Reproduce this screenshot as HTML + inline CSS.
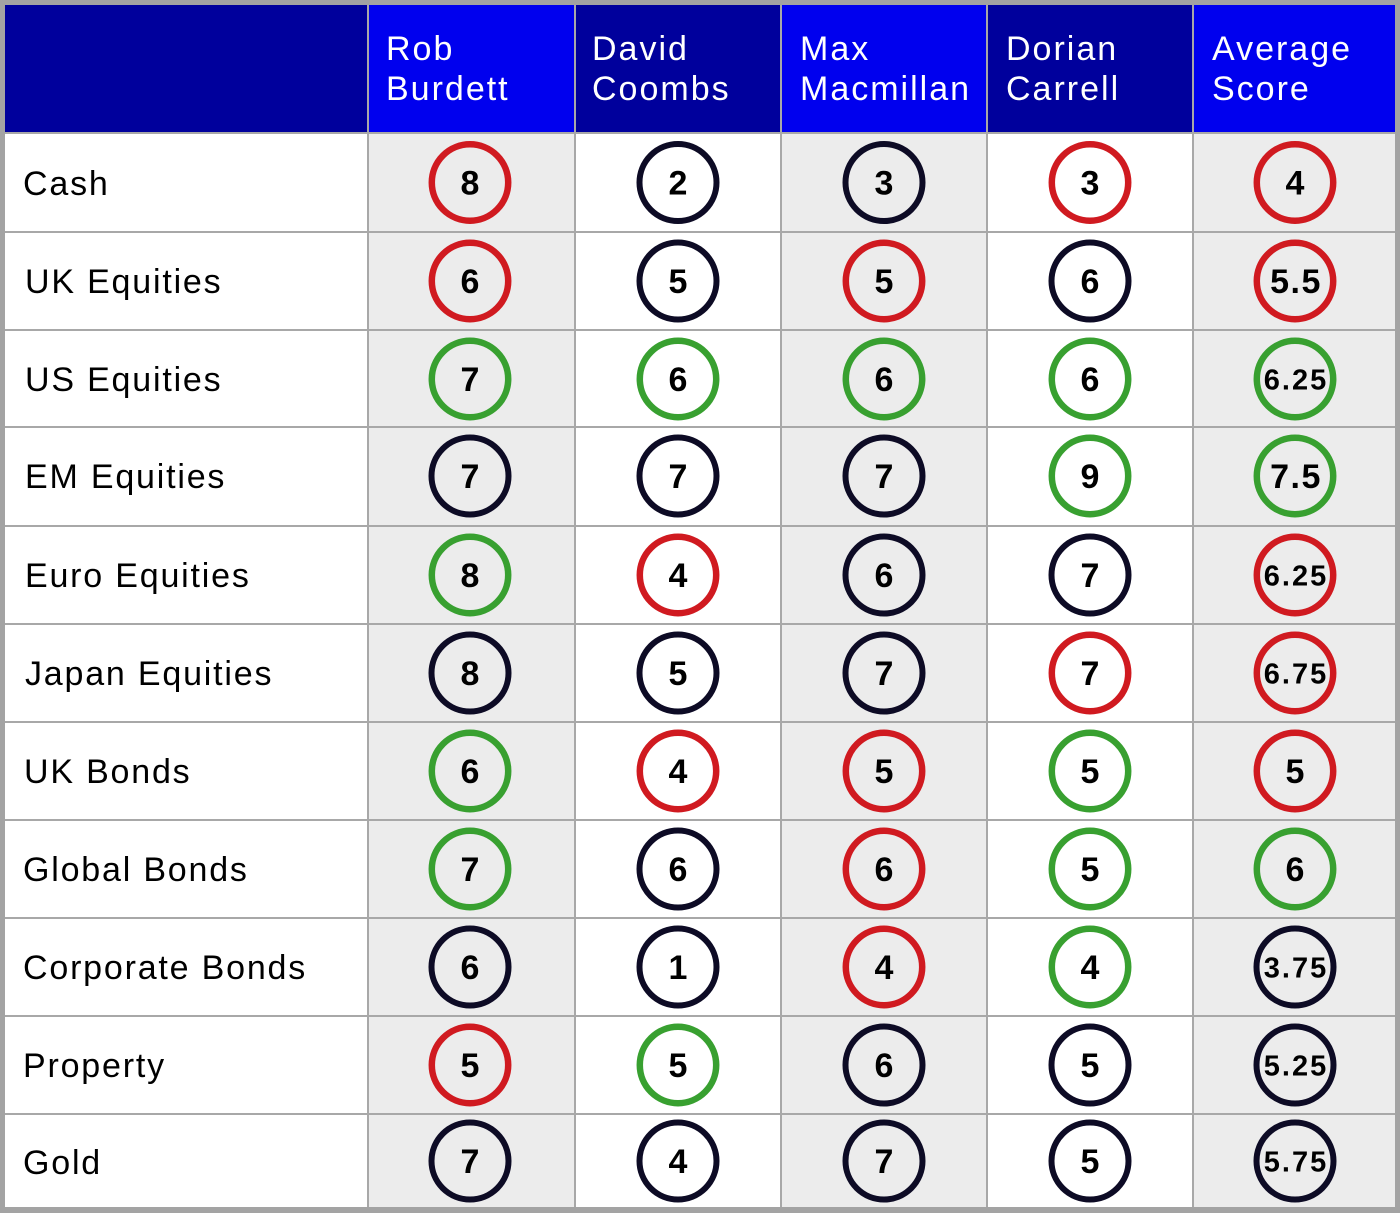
<!DOCTYPE html>
<html>
<head>
<meta charset="utf-8">
<style>
html,body{margin:0;padding:0;background:#a3a3a3;}
svg{display:block;}
.hd{font-family:"Liberation Sans",sans-serif;font-size:34px;fill:#ffffff;letter-spacing:2px;}
.lb{font-family:"Liberation Sans",sans-serif;font-size:34px;fill:#000000;letter-spacing:1.8px;}
.n1{font-family:"Liberation Sans",sans-serif;font-weight:bold;font-size:34px;fill:#000;text-anchor:middle;}
.n3{font-family:"Liberation Sans",sans-serif;font-weight:bold;font-size:34px;fill:#000;text-anchor:middle;letter-spacing:1.5px;}
.n4{font-family:"Liberation Sans",sans-serif;font-weight:bold;font-size:29px;fill:#000;text-anchor:middle;letter-spacing:2px;}
.R{fill:none;stroke:#d01a20;stroke-width:6.5;}
.G{fill:none;stroke:#38a030;stroke-width:6.5;}
.N{fill:none;stroke:#0d0b25;stroke-width:6;}
</style>
</head>
<body>
<svg width="1400" height="1213" viewBox="0 0 1400 1213" xmlns="http://www.w3.org/2000/svg">
  <rect x="0" y="0" width="1400" height="1213" fill="#a3a3a3"/>
  <!-- body backgrounds -->
  <rect x="5" y="134" width="362" height="1073" fill="#ffffff"/>
  <rect x="369" y="134" width="206" height="1073" fill="#ececec"/>
  <rect x="576" y="134" width="205" height="1073" fill="#ffffff"/>
  <rect x="782" y="134" width="205" height="1073" fill="#ececec"/>
  <rect x="988" y="134" width="205" height="1073" fill="#ffffff"/>
  <rect x="1194" y="134" width="201" height="1073" fill="#ececec"/>
  <!-- header backgrounds -->
  <rect x="5" y="5" width="362" height="128" fill="#00009c"/>
  <rect x="369" y="5" width="205" height="128" fill="#0000ee"/>
  <rect x="576" y="5" width="204" height="128" fill="#00009c"/>
  <rect x="782" y="5" width="204" height="128" fill="#0000ee"/>
  <rect x="988" y="5" width="204" height="128" fill="#00009c"/>
  <rect x="1194" y="5" width="201" height="128" fill="#0000ee"/>
  <!-- vertical grid lines -->
  <g fill="#a8a8a8">
    <rect x="367" y="5" width="2" height="1202"/>
    <rect x="574" y="5" width="2" height="1202"/>
    <rect x="780" y="5" width="2" height="1202"/>
    <rect x="986" y="5" width="2" height="1202"/>
    <rect x="1192" y="5" width="2" height="1202"/>
  </g>
  <!-- horizontal grid lines -->
  <g fill="#a8a8a8">
    <rect x="5" y="132" width="1390" height="2"/>
    <rect x="5" y="231" width="1390" height="2"/>
    <rect x="5" y="329" width="1390" height="2"/>
    <rect x="5" y="426" width="1390" height="2"/>
    <rect x="5" y="525" width="1390" height="2"/>
    <rect x="5" y="623" width="1390" height="2"/>
    <rect x="5" y="721" width="1390" height="2"/>
    <rect x="5" y="819" width="1390" height="2"/>
    <rect x="5" y="917" width="1390" height="2"/>
    <rect x="5" y="1015" width="1390" height="2"/>
    <rect x="5" y="1113" width="1390" height="2"/>
  </g>
  <!-- header text -->
  <text class="hd" x="386" y="60">Rob</text>
  <text class="hd" x="386" y="100">Burdett</text>
  <text class="hd" x="592" y="60">David</text>
  <text class="hd" x="592" y="100">Coombs</text>
  <text class="hd" x="800" y="60">Max</text>
  <text class="hd" x="800" y="100">Macmillan</text>
  <text class="hd" x="1006" y="60">Dorian</text>
  <text class="hd" x="1006" y="100">Carrell</text>
  <text class="hd" x="1212" y="60">Average</text>
  <text class="hd" x="1212" y="100">Score</text>
  <!-- row labels -->
  <text class="lb" x="23" y="195">Cash</text>
  <text class="lb" x="25" y="293">UK Equities</text>
  <text class="lb" x="25" y="391">US Equities</text>
  <text class="lb" x="25" y="488">EM Equities</text>
  <text class="lb" x="25" y="587">Euro Equities</text>
  <text class="lb" x="25" y="685">Japan Equities</text>
  <text class="lb" x="24" y="783">UK Bonds</text>
  <text class="lb" x="23" y="881">Global Bonds</text>
  <text class="lb" x="23" y="979">Corporate Bonds</text>
  <text class="lb" x="23" y="1077">Property</text>
  <text class="lb" x="23" y="1174">Gold</text>

  <!-- Row 1: Cash (cy 182.5) -->
  <circle class="R" cx="470" cy="182.5" r="38.2"/><text class="n1" x="470" y="194.5">8</text>
  <circle class="N" cx="678" cy="182.5" r="38.5"/><text class="n1" x="678" y="194.5">2</text>
  <circle class="N" cx="884" cy="182.5" r="38.5"/><text class="n1" x="884" y="194.5">3</text>
  <circle class="R" cx="1090" cy="182.5" r="38.2"/><text class="n1" x="1090" y="194.5">3</text>
  <circle class="R" cx="1295" cy="182.5" r="38.2"/><text class="n1" x="1295" y="194.5">4</text>

  <!-- Row 2: UK Equities (cy 281) -->
  <circle class="R" cx="470" cy="281" r="38.2"/><text class="n1" x="470" y="293">6</text>
  <circle class="N" cx="678" cy="281" r="38.5"/><text class="n1" x="678" y="293">5</text>
  <circle class="R" cx="884" cy="281" r="38.2"/><text class="n1" x="884" y="293">5</text>
  <circle class="N" cx="1090" cy="281" r="38.5"/><text class="n1" x="1090" y="293">6</text>
  <circle class="R" cx="1295" cy="281" r="38.2"/><text class="n3" x="1296" y="293">5.5</text>

  <!-- Row 3: US Equities (cy 379) -->
  <circle class="G" cx="470" cy="379" r="38.2"/><text class="n1" x="470" y="391">7</text>
  <circle class="G" cx="678" cy="379" r="38.2"/><text class="n1" x="678" y="391">6</text>
  <circle class="G" cx="884" cy="379" r="38.2"/><text class="n1" x="884" y="391">6</text>
  <circle class="G" cx="1090" cy="379" r="38.2"/><text class="n1" x="1090" y="391">6</text>
  <circle class="G" cx="1295" cy="379" r="38.2"/><text class="n4" x="1296" y="389.5">6.25</text>

  <!-- Row 4: EM Equities (cy 476) -->
  <circle class="N" cx="470" cy="476" r="38.5"/><text class="n1" x="470" y="488">7</text>
  <circle class="N" cx="678" cy="476" r="38.5"/><text class="n1" x="678" y="488">7</text>
  <circle class="N" cx="884" cy="476" r="38.5"/><text class="n1" x="884" y="488">7</text>
  <circle class="G" cx="1090" cy="476" r="38.2"/><text class="n1" x="1090" y="488">9</text>
  <circle class="G" cx="1295" cy="476" r="38.2"/><text class="n3" x="1296" y="488">7.5</text>

  <!-- Row 5: Euro Equities (cy 575) -->
  <circle class="G" cx="470" cy="575" r="38.2"/><text class="n1" x="470" y="587">8</text>
  <circle class="R" cx="678" cy="575" r="38.2"/><text class="n1" x="678" y="587">4</text>
  <circle class="N" cx="884" cy="575" r="38.5"/><text class="n1" x="884" y="587">6</text>
  <circle class="N" cx="1090" cy="575" r="38.5"/><text class="n1" x="1090" y="587">7</text>
  <circle class="R" cx="1295" cy="575" r="38.2"/><text class="n4" x="1296" y="585.5">6.25</text>

  <!-- Row 6: Japan Equities (cy 673) -->
  <circle class="N" cx="470" cy="673" r="38.5"/><text class="n1" x="470" y="685">8</text>
  <circle class="N" cx="678" cy="673" r="38.5"/><text class="n1" x="678" y="685">5</text>
  <circle class="N" cx="884" cy="673" r="38.5"/><text class="n1" x="884" y="685">7</text>
  <circle class="R" cx="1090" cy="673" r="38.2"/><text class="n1" x="1090" y="685">7</text>
  <circle class="R" cx="1295" cy="673" r="38.2"/><text class="n4" x="1296" y="683.5">6.75</text>

  <!-- Row 7: UK Bonds (cy 771) -->
  <circle class="G" cx="470" cy="771" r="38.2"/><text class="n1" x="470" y="783">6</text>
  <circle class="R" cx="678" cy="771" r="38.2"/><text class="n1" x="678" y="783">4</text>
  <circle class="R" cx="884" cy="771" r="38.2"/><text class="n1" x="884" y="783">5</text>
  <circle class="G" cx="1090" cy="771" r="38.2"/><text class="n1" x="1090" y="783">5</text>
  <circle class="R" cx="1295" cy="771" r="38.2"/><text class="n1" x="1295" y="783">5</text>

  <!-- Row 8: Global Bonds (cy 869) -->
  <circle class="G" cx="470" cy="869" r="38.2"/><text class="n1" x="470" y="881">7</text>
  <circle class="N" cx="678" cy="869" r="38.5"/><text class="n1" x="678" y="881">6</text>
  <circle class="R" cx="884" cy="869" r="38.2"/><text class="n1" x="884" y="881">6</text>
  <circle class="G" cx="1090" cy="869" r="38.2"/><text class="n1" x="1090" y="881">5</text>
  <circle class="G" cx="1295" cy="869" r="38.2"/><text class="n1" x="1295" y="881">6</text>

  <!-- Row 9: Corporate Bonds (cy 967) -->
  <circle class="N" cx="470" cy="967" r="38.5"/><text class="n1" x="470" y="979">6</text>
  <circle class="N" cx="678" cy="967" r="38.5"/><text class="n1" x="678" y="979">1</text>
  <circle class="R" cx="884" cy="967" r="38.2"/><text class="n1" x="884" y="979">4</text>
  <circle class="G" cx="1090" cy="967" r="38.2"/><text class="n1" x="1090" y="979">4</text>
  <circle class="N" cx="1295" cy="967" r="38.5"/><text class="n4" x="1296" y="977.5">3.75</text>

  <!-- Row 10: Property (cy 1065) -->
  <circle class="R" cx="470" cy="1065" r="38.2"/><text class="n1" x="470" y="1077">5</text>
  <circle class="G" cx="678" cy="1065" r="38.2"/><text class="n1" x="678" y="1077">5</text>
  <circle class="N" cx="884" cy="1065" r="38.5"/><text class="n1" x="884" y="1077">6</text>
  <circle class="N" cx="1090" cy="1065" r="38.5"/><text class="n1" x="1090" y="1077">5</text>
  <circle class="N" cx="1295" cy="1065" r="38.5"/><text class="n4" x="1296" y="1075.5">5.25</text>

  <!-- Row 11: Gold (cy 1161) -->
  <circle class="N" cx="470" cy="1161" r="38.5"/><text class="n1" x="470" y="1173">7</text>
  <circle class="N" cx="678" cy="1161" r="38.5"/><text class="n1" x="678" y="1173">4</text>
  <circle class="N" cx="884" cy="1161" r="38.5"/><text class="n1" x="884" y="1173">7</text>
  <circle class="N" cx="1090" cy="1161" r="38.5"/><text class="n1" x="1090" y="1173">5</text>
  <circle class="N" cx="1295" cy="1161" r="38.5"/><text class="n4" x="1296" y="1171.5">5.75</text>
</svg>
</body>
</html>
